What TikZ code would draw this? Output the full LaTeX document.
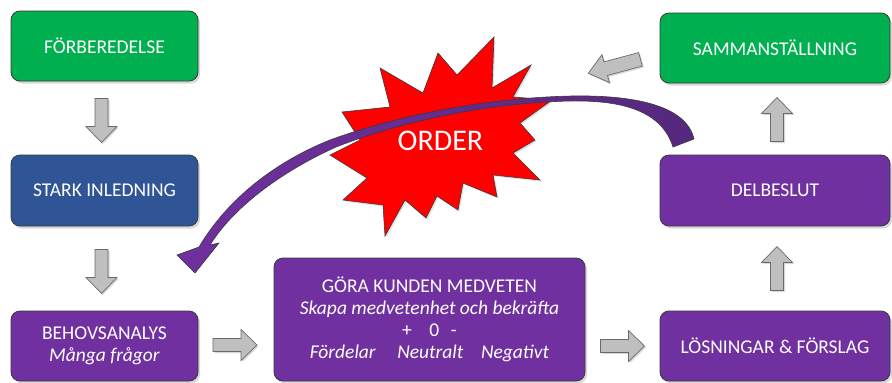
\documentclass[tikz,border=0pt]{standalone}
\usepackage{fontspec}
\setmainfont{Carlito}
\usetikzlibrary{shadows}
\definecolor{bgreen}{HTML}{00B050}
\definecolor{bblue}{HTML}{2F5597}
\definecolor{bpurple}{HTML}{7030A0}
\definecolor{apurpleR}{HTML}{56287E}
\definecolor{agray}{HTML}{BFBFBF}
\definecolor{aedge}{HTML}{6A6A6A}
\definecolor{bedge}{HTML}{3A3A3A}
\definecolor{starred}{HTML}{FF0000}
\begin{document}
\begin{tikzpicture}[x=1pt,y=-1pt,
  box/.style={draw=bedge, line width=0.8pt, rounded corners=9pt, text=white,
    align=center, inner sep=0pt, font=\fontsize{19.5}{22}\selectfont,
    drop shadow={shadow xshift=2pt, shadow yshift=-2.5pt, opacity=0.3}},
  grayarr/.style={fill=agray, draw=aedge, line width=0.7pt,
    drop shadow={shadow xshift=1.5pt, shadow yshift=-1.5pt, opacity=0.3}},
  garrow/.pic={\path[grayarr] (-22,-6.5) -- (6,-6.5) -- (6,-15.5) -- (22,0)
    -- (6,15.5) -- (6,6.5) -- (-22,6.5) -- cycle;},
  garrowlong/.pic={\path[grayarr] (-27,-7) -- (9,-7) -- (9,-14.5) -- (27,0)
    -- (9,14.5) -- (9,7) -- (-27,7) -- cycle;}
]
\useasboundingbox (0,0) rectangle (892,383);
\fill[white] (0,0) rectangle (892,383);

% boxes
\node[box, fill=bgreen, minimum width=187pt, minimum height=70pt] (prep) at (104.5,46) {FÖRBEREDELSE};
\node[box, fill=bblue, minimum width=187pt, minimum height=71pt] (stark) at (104.5,190.5) {STARK INLEDNING};
\node[box, fill=bpurple, minimum width=187pt, minimum height=70pt] (behov) at (104.5,346) {BEHOVSANALYS\\\textit{Många frågor}};
\node[box, fill=bpurple, minimum width=311pt, minimum height=123pt] (gora) at (429.5,319.5)
  {GÖRA KUNDEN MEDVETEN\\\textit{Skapa medvetenhet och bekräfta}\\+\hspace{0.9em}0\hspace{0.6em}-\\
   \textit{Fördelar}\hspace{1.1em}\textit{Neutralt}\hspace{0.9em}\textit{Negativt}};
\node[box, fill=bpurple, minimum width=230pt, minimum height=70pt] (losn) at (775,346) {LÖSNINGAR \& FÖRSLAG};
\node[box, fill=bpurple, minimum width=230pt, minimum height=71pt] (del) at (775,190.5) {DELBESLUT};
\node[box, fill=bgreen, minimum width=230pt, minimum height=70pt] (samm) at (775,48) {SAMMANSTÄLLNING};

% gray block arrows
\pic[rotate=-90] at (101.5,120.5) {garrow};
\pic[rotate=-90] at (101.5,271.5) {garrow};
\pic at (235,345) {garrow};
\pic at (622.5,346) {garrow};
\pic[rotate=90] at (777,268.5) {garrow};
\pic[rotate=90] at (777,119.5) {garrow};
\pic[rotate=195] at (614.4,66.3) {garrowlong};

% star burst
\path[fill=starred, draw=bedge, line width=0.6pt,
      drop shadow={shadow xshift=1.5pt, shadow yshift=-1.5pt, opacity=0.25}]
  (494,37) -- (492,88) -- (531,65) -- (513,97) -- (552,100) -- (520,123)
  -- (535,140) -- (513,153) -- (540,180) -- (493,175) -- (497,197)
  -- (463,183) -- (458,210) -- (437,196) -- (426,218) -- (405,200)
  -- (385,236) -- (383,205) -- (343,200) -- (367,178) -- (330,155)
  -- (360,140) -- (342,112) -- (390,107) -- (380,68) -- (423,93)
  -- (438,53) -- (457,75) -- cycle;

% curved purple arrow
\path[draw=bedge, line width=0.6pt, left color=bpurple, right color=apurpleR]
  (694,139) .. controls (686,104) and (630,95) .. (572,96)
  .. controls (480,98) and (390,118) .. (330,140)
  .. controls (280,160) and (230,195) .. (199,247)
  -- (177,255) -- (195,273) -- (219,243) -- (210,245)
  .. controls (235,205) and (285,170) .. (336,147)
  .. controls (400,122) and (485,103) .. (570,101)
  .. controls (625,100) and (662,112) .. (673,147) -- cycle;

\node[text=white, font=\fontsize{30}{34}\selectfont, inner sep=0pt] (order) at (440.5,141) {ORDER};
\end{tikzpicture}
\end{document}
